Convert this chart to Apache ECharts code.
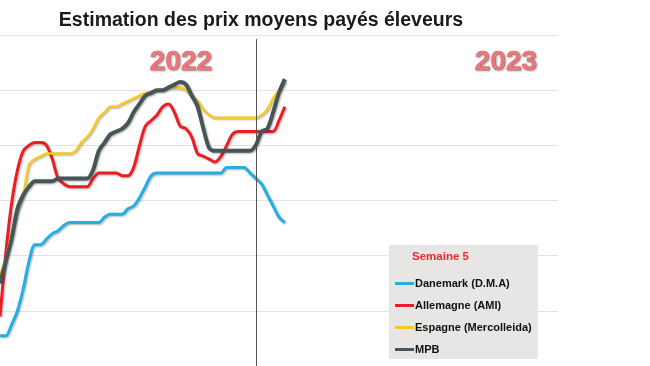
<!DOCTYPE html>
<html>
<head>
<meta charset="utf-8">
<script src="https://cdn.jsdelivr.net/npm/echarts@6/dist/echarts.min.js"></script>
<style>html,body{margin:0;padding:0;background:#fff}#c{width:650px;height:366px}</style>
</head>
<body>
<div id="c"></div>
<script>
// Week index (2022 weeks 8..52, then 2023 weeks 1..5 as 53..57)
const weeks = [8,9,10,11,12,13,14,15,16,17,18,19,20,21,22,23,24,25,26,27,28,29,30,31,32,33,34,35,36,37,38,39,40,41,42,43,44,45,46,47,48,49,50,51,52,53,54,55,56,57];
const seriesNames = ['Danemark (D.M.A)','Allemagne (AMI)','Espagne (Mercolleida)','MPB'];
const danemark = [1.11,1.11,1.15,1.20,1.28,1.38,1.44,1.44,1.46,1.48,1.49,1.51,1.52,1.52,1.52,1.52,1.52,1.52,1.54,1.55,1.55,1.55,1.57,1.58,1.61,1.65,1.69,1.70,1.70,1.70,1.70,1.70,1.70,1.70,1.70,1.70,1.70,1.70,1.70,1.72,1.72,1.72,1.72,1.70,1.68,1.66,1.62,1.58,1.54,1.52];
const allemagne = [1.18,1.41,1.59,1.71,1.78,1.80,1.81,1.81,1.80,1.75,1.68,1.66,1.65,1.65,1.65,1.65,1.68,1.70,1.70,1.70,1.70,1.69,1.69,1.72,1.80,1.87,1.89,1.91,1.94,1.95,1.92,1.87,1.86,1.83,1.77,1.76,1.75,1.74,1.76,1.80,1.84,1.85,1.85,1.85,1.85,1.85,1.85,1.85,1.89,1.94];
const espagne = [1.33,1.39,1.48,1.56,1.62,1.73,1.75,1.76,1.77,1.77,1.77,1.77,1.77,1.78,1.81,1.83,1.86,1.90,1.92,1.94,1.94,1.95,1.96,1.97,1.98,1.99,1.99,2.00,2.00,2.01,2.01,2.01,2.00,1.98,1.96,1.93,1.91,1.90,1.90,1.90,1.90,1.90,1.90,1.90,1.90,1.91,1.93,1.97,2.00,2.03];
const mpb = [1.30,1.38,1.46,1.57,1.62,1.65,1.67,1.67,1.67,1.67,1.68,1.68,1.68,1.68,1.68,1.68,1.71,1.78,1.81,1.84,1.85,1.86,1.88,1.92,1.95,1.98,1.99,2.00,2.00,2.01,2.02,2.03,2.02,1.98,1.94,1.86,1.79,1.78,1.78,1.78,1.78,1.78,1.78,1.78,1.80,1.85,1.86,1.92,1.99,2.04];
const yearLabels = ['2022','2023'];
const yearBreakWeek = 52;

const colors = ['#22aee6','#ee1d23','#f7c81e','#485558'];
const widths = [3,3,2.5,4];
const allData = [danemark, allemagne, espagne, mpb];

const chart = echarts.init(document.getElementById('c'));
const font = '"Liberation Sans", Arial, sans-serif';

const series = allData.map((vals, i) => ({
  name: seriesNames[i],
  type: 'line',
  data: weeks.map((w, j) => [w, vals[j]]),
  showSymbol: false,
  smooth: 0.3,
  lineStyle: {color: colors[i], width: widths[i], shadowColor: 'rgba(0,0,0,0.3)', shadowBlur: 2, shadowOffsetY: 1, shadowOffsetX: 1},
  itemStyle: {color: colors[i]},
  z: 2 + i,
  silent: true
}));
series[0].markLine = {
  silent: true, symbol: 'none', label: {show: false},
  lineStyle: {color: '#555', width: 1, type: 'solid'},
  data: [[{coord: [yearBreakWeek, 2.185]}, {coord: [yearBreakWeek, 1.0]}]]
};

chart.setOption({
  animation: false,
  backgroundColor: '#fff',
  grid: {left: 0, right: 92, top: 35, height: 332.5},
  xAxis: {type: 'value', min: 8, max: 104, show: false},
  yAxis: {type: 'value', min: 1.0, max: 2.2, interval: 0.2,
    axisLabel: {show: false}, axisLine: {show: false}, axisTick: {show: false},
    splitLine: {lineStyle: {color: '#e3e3e3', width: 1}}},
  legend: {
    orient: 'vertical', left: 390, top: 273, itemGap: 11, z: 30,
    itemWidth: 19, itemHeight: 3, icon: 'rect',
    data: seriesNames,
    textStyle: {fontFamily: font, fontWeight: 'bold', fontSize: 11, color: '#111', padding: [0,0,0,-4]},
    selectedMode: false
  },
  graphic: [
    {type: 'rect', left: 389, top: 245, z: 20, shape: {width: 149, height: 114}, style: {fill: '#e8e6e4'}, silent: true},
    {type: 'text', x: 412, y: 257, z: 21, style: {text: 'Semaine 5', fill: '#ec2a2e', font: 'bold 11.5px ' + font, textVerticalAlign: 'middle'}, silent: true},
    {type: 'text', x: 261, y: 21, style: {text: 'Estimation des prix moyens payés éleveurs', fill: '#1a1a1a', font: 'bold 19.5px ' + font, textAlign: 'center', textVerticalAlign: 'middle'}, silent: true},
    {type: 'text', x: 181, y: 62, style: {text: yearLabels[0], fill: '#e8787c', stroke: '#c9585d', lineWidth: 0.6, font: 'bold 28px ' + font, textAlign: 'center', textVerticalAlign: 'middle', textShadowColor: 'rgba(0,0,0,0.3)', textShadowBlur: 2, textShadowOffsetX: 1, textShadowOffsetY: 1}, silent: true},
    {type: 'text', x: 506, y: 62, style: {text: yearLabels[1], fill: '#e8787c', stroke: '#c9585d', lineWidth: 0.6, font: 'bold 28px ' + font, textAlign: 'center', textVerticalAlign: 'middle', textShadowColor: 'rgba(0,0,0,0.3)', textShadowBlur: 2, textShadowOffsetX: 1, textShadowOffsetY: 1}, silent: true}
  ],
  series: series
});
</script>
</body>
</html>
